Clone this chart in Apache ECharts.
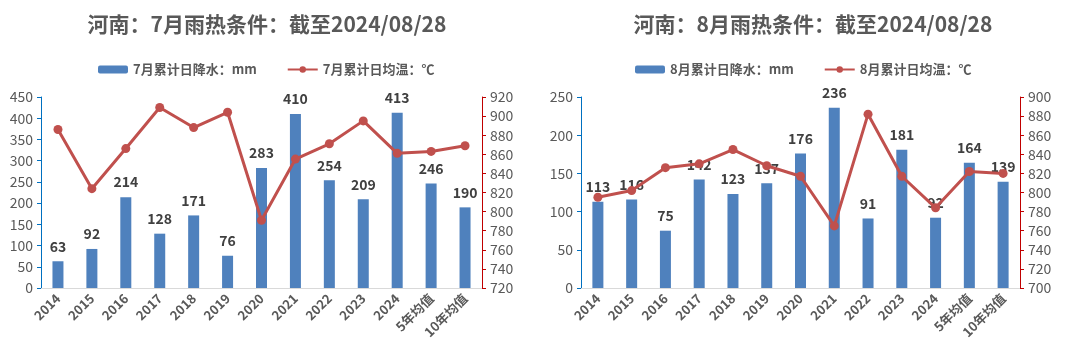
<!DOCTYPE html>
<html><head><meta charset="utf-8">
<script src="https://cdn.jsdelivr.net/npm/echarts@6/dist/echarts.min.js"></script>
<style>html,body{margin:0;padding:0;background:#fff}#c{width:1080px;height:362px}</style>
</head><body><div id="c"></div>
<script>
const categories = ['2014','2015','2016','2017','2018','2019','2020','2021','2022','2023','2024','5年均值','10年均值'];
const julRain = [63,92,214,128,171,76,283,410,254,209,413,246,190];
const julTemp = [886,824,866,909,888,904,791,855,871,895,861,863,869];
const augRain = [113,116,75,142,123,137,176,236,91,181,92,164,139];
const augTemp = [795,802,826,830,845,828,817,765,882,817,784,822,820];
const julTitle = '河南：7月雨热条件：截至2024/08/28';
const augTitle = '河南：8月雨热条件：截至2024/08/28';
const julNames = ['7月累计日降水：mm','7月累计日均温：℃'];
const augNames = ['8月累计日降水：mm','8月累计日均温：℃'];

const FONT = '"Noto Sans CJK SC", "Noto Sans", sans-serif';
const BLUE = '#4F81BD', RED = '#C0504D', GRAY = '#595959';
const chart = echarts.init(document.getElementById('c'));

function xAxis(gi){
  return {type:'category', gridIndex:gi, data:categories,
    axisLine:{lineStyle:{color:'#D9D9D9'}}, axisTick:{show:false},
    axisLabel:{rotate:45, color:GRAY, fontFamily:FONT, fontSize:13, fontWeight:'bold', interval:0, margin:8}};
}
function yAxis(gi, min, max, interval, pos, color){
  return {type:'value', gridIndex:gi, min, max, interval, position:pos,
    splitLine:{show:false},
    axisLine:{show:true, lineStyle:{color}}, axisTick:{show:true, length:4, lineStyle:{color}},
    axisLabel:{color:GRAY, fontFamily:FONT, fontSize:14, margin:8}};
}
function barSeries(name, data, xi, yi){
  return {type:'bar', name, data, xAxisIndex:xi, yAxisIndex:yi, barWidth:11,
    itemStyle:{color:BLUE},
    label:{show:true, position:'top', distance:8, color:'#404040', fontFamily:FONT, fontSize:14, fontWeight:'bold'}};
}
function lineSeries(name, data, xi, yi){
  return {type:'line', name, data, xAxisIndex:xi, yAxisIndex:yi, symbol:'circle', symbolSize:9,
    lineStyle:{color:RED, width:3}, itemStyle:{color:RED}, z:5};
}
const titleStyle = {color:GRAY, fontFamily:FONT, fontSize:21, fontWeight:'bold'};
const legendText = {color:GRAY, fontFamily:FONT, fontSize:13, fontWeight:'bold'};

chart.setOption({
  animation:false,
  title:[
    {text:julTitle, left:262, top:9, textAlign:'center', textStyle:titleStyle},
    {text:augTitle, left:808, top:9, textAlign:'center', textStyle:titleStyle}
  ],
  legend:[
    {data:julNames, left:93, top:58, itemWidth:30, itemHeight:8, itemGap:30, textStyle:legendText},
    {data:augNames, left:630, top:58, itemWidth:30, itemHeight:8, itemGap:30, textStyle:legendText}
  ],
  grid:[
    {left:41, right:598, top:97, bottom:74},
    {left:581, right:60, top:97, bottom:74}
  ],
  xAxis:[xAxis(0), xAxis(1)],
  yAxis:[
    yAxis(0, 0, 450, 50, 'left', '#0070C0'),
    yAxis(0, 720, 920, 20, 'right', '#C00000'),
    yAxis(1, 0, 250, 50, 'left', '#0070C0'),
    yAxis(1, 700, 900, 20, 'right', '#C00000')
  ],
  series:[
    barSeries(julNames[0], julRain, 0, 0),
    lineSeries(julNames[1], julTemp, 0, 1),
    barSeries(augNames[0], augRain, 1, 2),
    lineSeries(augNames[1], augTemp, 1, 3)
  ]
});
</script></body></html>
